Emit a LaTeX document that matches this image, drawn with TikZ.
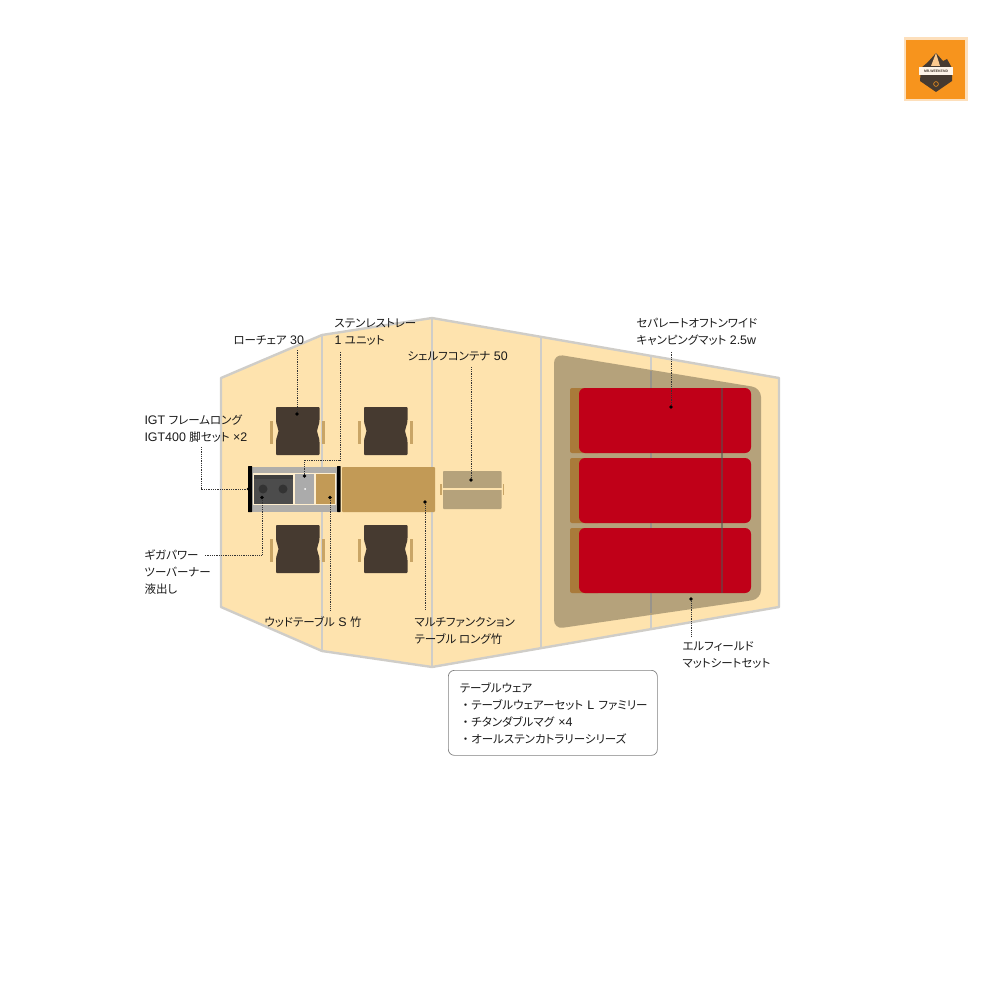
\documentclass[tikz,border=0pt]{standalone}
\usepackage{fontspec}
\setmainfont[Scale=1.08]{Liberation Sans}
\newfontfamily\cjk[RawFeature=+palt]{Noto Sans CJK JP}
\newfontfamily\cjkfull{Noto Sans CJK JP}
\newcommand{\jp}[1]{{\cjk #1}}
\definecolor{tentfill}{HTML}{FEE3AE}
\definecolor{tentline}{HTML}{CFCDC8}
\definecolor{sheetfill}{HTML}{B5A27B}
\definecolor{sheetpole}{HTML}{98938A}
\definecolor{matred}{HTML}{C00018}
\definecolor{mattan}{HTML}{A97A3A}
\definecolor{chairbrown}{HTML}{463A30}
\definecolor{woodtan}{HTML}{C29A56}
\definecolor{armtan}{HTML}{C9A566}
\definecolor{framegrey}{HTML}{B0AEAA}
\definecolor{logoorange}{HTML}{F7941D}
\tikzset{
  label/.style={anchor=west, inner sep=0pt, align=left, text=black!90,
    font=\fontsize{11.5}{17}\selectfont},
  leader/.style={dash pattern=on 0.8pt off 1pt, line width=0.6pt, black!80},
  leaderdot/.style={circle, fill=black, inner sep=0pt, minimum size=3.6pt},
  tentpole/.style={draw=tentline, line width=2.4pt},
}
\begin{document}
\begin{tikzpicture}[x=1pt, y=-1pt, line width=1pt]
    \useasboundingbox (0, 0) rectangle (1000, 1000);

    % draw tent floor
    \filldraw[fill=tentfill, tentpole, line join=round]
      (221, 378) -- (322, 335) -- (432, 318) -- (779, 378) -- (779, 607)
      -- (432, 667) -- (322, 651) -- (221, 607) -- cycle;
    \draw[tentpole] (322, 335) -- (322, 651);
    \draw[tentpole] (432, 318) -- (432, 667);
    \draw[tentpole] (541, 337) -- (541, 648);
    \draw[tentpole] (651, 356) -- (651, 629);

    % draw mat sheet
    \fill[sheetfill, rounded corners=9pt]
      (554, 354) -- (761, 388) -- (761, 599) -- (554, 629) -- cycle;
    \draw[sheetpole, line width=2.2pt] (651, 371) -- (651, 613);

    % draw mats
    \foreach \y in {388, 458, 528} {
      \fill[mattan, rounded corners=2pt] (570, \y) rectangle (600, \y + 65);
      \fill[matred, rounded corners=6pt] (579, \y) rectangle (751, \y + 65);
    }
    \draw[color=black!60!tentline, opacity=0.55, line width=1.4pt] (722, 388) -- (722, 593);

    % draw chairs
    \foreach \x/\y in {276/407, 364/407, 276/525, 364/525} {
      \fill[chairbrown, rounded corners=0.8pt]
        (\x, \y) -- (\x + 43.5, \y)
        -- (\x + 43.5, \y + 12) .. controls (\x + 43.5, \y + 19) and (\x + 41.2, \y + 19) .. (\x + 41.2, \y + 24)
        .. controls (\x + 41.2, \y + 29) and (\x + 43.5, \y + 29) .. (\x + 43.5, \y + 36)
        -- (\x + 43.5, \y + 48) -- (\x, \y + 48)
        -- (\x, \y + 36) .. controls (\x, \y + 29) and (\x + 2.3, \y + 29) .. (\x + 2.3, \y + 24)
        .. controls (\x + 2.3, \y + 19) and (\x, \y + 19) .. (\x, \y + 12) -- cycle;
      \fill[armtan] (\x - 6.5, \y + 14) rectangle (\x - 2.7, \y + 37);
      \fill[armtan] (\x + 45.5, \y + 14) rectangle (\x + 49.3, \y + 37);
    }

    % draw igt frame and inserts
    \fill[framegrey] (250, 467) rectangle (339, 512);
    \fill[tentfill!60!white] (253, 473) rectangle (336, 505);
    \fill[color=black!70] (254, 475) rectangle (293, 504);
    \fill[color=black!80, opacity=0.5] (254, 475) rectangle (293, 479);
    \fill[color=black!80] (263, 489) circle (4.5);
    \fill[color=black!80] (283, 489) circle (4.5);
    \fill[color=black!33] (295, 474) rectangle (314, 504);
    \fill[color=white] (305, 489) circle (1);
    \fill[woodtan] (316, 474) rectangle (335, 504);
    \fill[color=black, rounded corners=0.5pt] (248, 466) rectangle (252, 512);
    \fill[color=black, rounded corners=0.5pt] (337, 466) rectangle (340.5, 512);

    % draw long table and shelf container
    \fill[woodtan, rounded corners=0.8pt] (342, 467) rectangle (435, 512);
    \fill[sheetfill, rounded corners=0.8pt] (443, 471) rectangle (501.5, 509);
    \draw[color=tentfill, line width=1.2pt] (443, 489) -- (501.5, 489);
    \fill[armtan] (440.3, 484) rectangle (441.6, 495);
    \fill[armtan] (503, 484) rectangle (504.3, 495);

    % draw labels
    \node[label] (chairlabel) at (233, 340) {\jp{ローチェア} 30};
    \node[label] (traylabel) at (334, 331.5) {\jp{ステンレストレー}\\1 \jp{ユニット}};
    \node[label] (shelflabel) at (407, 356) {\jp{シェルフコンテナ} 50};
    \node[label] (framelabel) at (144, 428.5) {IGT \jp{フレームロング}\\IGT400 \jp{脚セット} ×2};
    \node[label] (burnerlabel) at (144, 572) {\jp{ギガパワー}\\\jp{ツーバーナー}\\\jp{液出し}};
    \node[label] (woodlabel) at (264, 622) {\jp{ウッドテーブル} S \jp{竹}};
    \node[label] (longlabel) at (414, 630.5) {\jp{マルチファンクション}\\\jp{テーブル ロング竹}};
    \node[label] (matlabel) at (636, 331.5) {\jp{セパレートオフトンワイド}\\\jp{キャンピングマット} 2.5w};
    \node[label] (sheetlabel) at (682, 654.5) {\jp{エルフィールド}\\\jp{マットシートセット}};
    \node[label, anchor=north west, draw=black!50, rounded corners=6pt, line width=0.7pt,
      text width=186pt, minimum height=85pt, inner xsep=11.5pt, inner ysep=9.5pt] (warebox) at (448, 670)
      {\jp{テーブルウェア}\\\mbox{{\cjkfull ・}\jp{テーブルウェアーセット} L \jp{ファミリー}}\\{\cjkfull ・}\jp{チタンダブルマグ} ×4\\{\cjkfull ・}\jp{オールステンカトラリーシリーズ}};

    % draw leader lines
    \node[leaderdot] (chairdot) at (297, 414) {};
    \node[leaderdot] (traydot) at (304.5, 476) {};
    \node[leaderdot] (framedot) at (248.5, 489) {};
    \node[leaderdot] (burnerdot) at (262, 497.5) {};
    \node[leaderdot] (wooddot) at (330, 497.5) {};
    \node[leaderdot] (longdot) at (425, 502) {};
    \node[leaderdot] (shelfdot) at (471, 480) {};
    \node[leaderdot] (matdot) at (671, 407) {};
    \node[leaderdot] (sheetdot) at (691, 599) {};
    \coordinate (chairend) at (297, 350);
    \coordinate (trayend) at (340, 352);
    \coordinate (frameend) at (201, 447);
    \coordinate (burnerend) at (205, 555);
    \coordinate (woodend) at (330, 610);
    \coordinate (longend) at (425, 610);
    \coordinate (shelfend) at (471, 367);
    \coordinate (matend) at (671, 351);
    \coordinate (sheetend) at (691, 636);
    \draw[leader] (chairdot) -- (chairend);
    \draw[leader] (traydot) |- (340, 460) -- (trayend);
    \draw[leader] (framedot) -| (frameend);
    \draw[leader] (burnerdot) |- (burnerend);
    \draw[leader] (wooddot) -- (woodend);
    \draw[leader] (longdot) -- (longend);
    \draw[leader] (shelfdot) -- (shelfend);
    \draw[leader] (matdot) -- (matend);
    \draw[leader] (sheetdot) -- (sheetend);

    % draw logo
    \fill[color=logoorange!30!white] (903.5, 37.5) rectangle (967.5, 101.5);
    \fill[logoorange] (906, 40) rectangle (965, 99);
    \fill[chairbrown] (921, 68) -- (928, 62) -- (936, 53) -- (943, 61) -- (947, 59) -- (952, 68)
      -- (952, 81) -- (936, 92) -- (920, 81) -- cycle;
    \fill[logoorange!50!white] (936, 53) -- (940, 66) -- (931, 66) -- cycle;
    \fill[color=white!90!logoorange] (919, 67) rectangle (953, 75);
    \node[inner sep=0pt, font=\fontsize{3.2}{4}\selectfont\bfseries, text=chairbrown] (logotext) at (936, 71) {MR.WEEKEND};
    \draw[color=logoorange, line width=0.6pt] (936, 84) circle (2.4);
\end{tikzpicture}
\end{document}
